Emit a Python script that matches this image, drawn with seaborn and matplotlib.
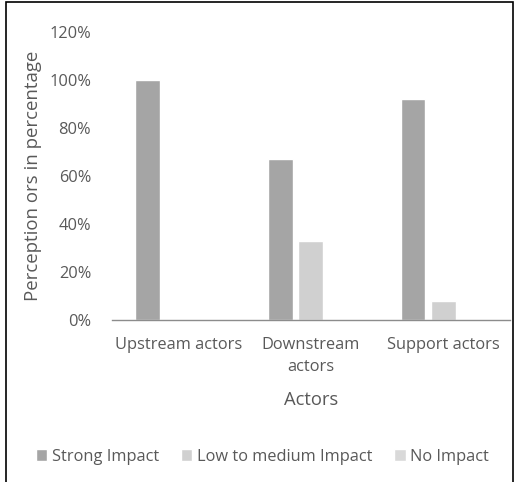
import pandas as pd
import seaborn as sns
import matplotlib.pyplot as plt
from matplotlib.patches import Rectangle
from matplotlib.ticker import FuncFormatter

actors = ["Upstream actors", "Downstream\nactors", "Support actors"]
impacts = ["Strong Impact", "Low to medium Impact", "No Impact"]
strong = [100, 67, 92]
low_medium = [0, 33, 8]
no_impact = [0, 0, 0]
colors = ["#A5A5A5", "#D0D0D0", "#D9D9D9"]

df = pd.DataFrame({
    "Actors": actors * 3,
    "Impact": [impacts[0]] * 3 + [impacts[1]] * 3 + [impacts[2]] * 3,
    "Value": strong + low_medium + no_impact,
})

sns.set_style("white")
plt.rcParams["font.family"] = ["Open Sans", "DejaVu Sans"]
text_color = "#595959"

fig = plt.figure(figsize=(5.15, 4.82), dpi=100)
ax = fig.add_axes([0.2175, 0.336, 0.772, 0.5976])

sns.barplot(data=df, x="Actors", y="Value", hue="Impact", palette=colors,
            width=0.69, gap=0.19, saturation=1, ax=ax, legend=True)

ax.set_ylim(0, 120)
ax.set_yticks(range(0, 121, 20))
ax.yaxis.set_major_formatter(FuncFormatter(lambda v, p: f"{v:.0f}%"))
ax.set_xlim(-0.5, 2.5)
ax.tick_params(axis="both", length=0, colors=text_color, labelsize=11.8)
ax.tick_params(axis="x", pad=12)
ax.tick_params(axis="y", pad=15)
for lbl in ax.get_xticklabels():
    lbl.set_linespacing(1.5)
for s in ["top", "right", "left"]:
    ax.spines[s].set_visible(False)
ax.spines["bottom"].set_color("#8C8C8C")
ax.spines["bottom"].set_linewidth(1.0)

ax.set_xlabel("Actors", color=text_color, fontsize=13.2, labelpad=12)
ax.set_ylabel("Perception ors in percentage", color=text_color, fontsize=13.4, labelpad=5)

handles, labels = ax.get_legend_handles_labels()
ax.get_legend().remove()
fig.legend(handles, labels, loc="center", bbox_to_anchor=(0.51, 0.052), ncol=3,
           frameon=False, handlelength=0.7, handleheight=0.7, handletextpad=0.3,
           columnspacing=1.3, fontsize=11.8, labelcolor=text_color)

fig.patches.append(Rectangle((6 / 515, -0.1), 507 / 515, 1.1 - 2 / 482, transform=fig.transFigure,
                             fill=False, edgecolor="black", linewidth=1.2))

fig.savefig("out.png", dpi=100)
